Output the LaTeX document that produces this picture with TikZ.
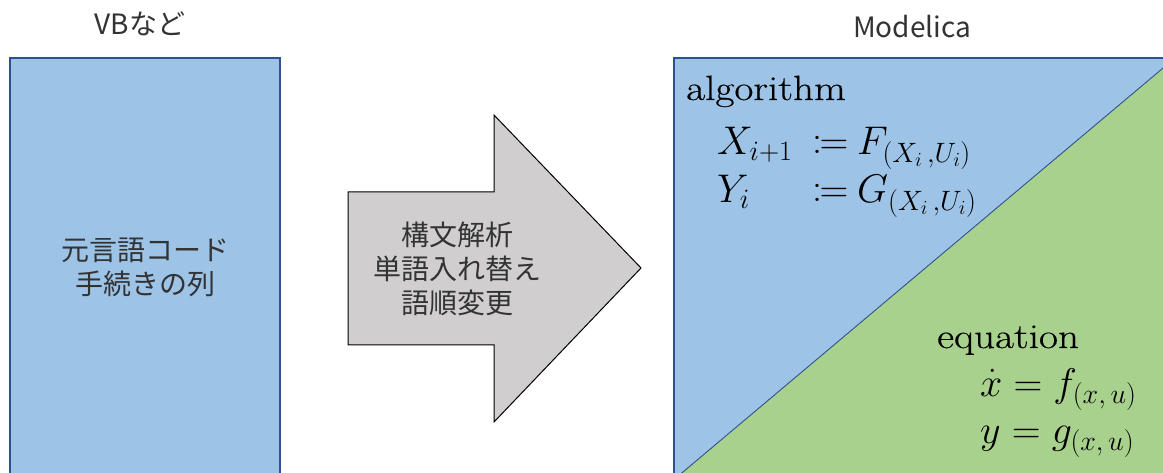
\RequirePackage{fix-cm}
\documentclass[tikz,border=0pt]{standalone}
\usepackage{mathtools}
\usepackage{fontspec}
\newfontfamily\jp{Noto Sans CJK JP}
\newfontfamily\kwfont{Latin Modern Roman}[FakeStretch=1.18, FakeBold=0.4]
\definecolor{boxblue}{HTML}{9DC3E6}
\definecolor{boxgreen}{HTML}{A9D18E}
\definecolor{arrowgray}{HTML}{D0CECE}
\definecolor{edgeblue}{HTML}{2F528F}
\definecolor{txt}{HTML}{333333}
\begin{document}
\begin{tikzpicture}[x=1pt,y=-1pt,
  jptext/.style={font=\jp\fontsize{28}{34}\selectfont, text=txt, align=center, inner sep=0pt},
  kw/.style={font=\kwfont\fontsize{35}{40}\selectfont, text=black, inner sep=0pt, anchor=base west},
  eq/.style={font=\fontsize{40}{42}\selectfont, text=black, inner sep=0pt, anchor=base west},
  edge/.style={draw=edgeblue, line width=1.1pt}]
\useasboundingbox (0,0) rectangle (1163,473);
\begin{scope}
  \clip (0,0) rectangle (1163,473);
  % left box
  \filldraw[edge, fill=boxblue] (10,58) rectangle (280,500);
  % right box
  \fill[boxblue] (674,58) rectangle (1200,500);
  \fill[boxgreen] (1163,68) -- (658,493) -- (1200,493) -- (1200,40) -- (1163,40) -- cycle;
  \fill[boxblue] (1163,58) -- (1163,68) -- (1200,37) -- (1200,58) -- cycle;
  \draw[draw=edgeblue, line width=0.9pt] (1175,58) -- (658,493);
  \draw[edge] (674,500) -- (674,58) -- (1200,58);
\end{scope}
% arrow
\filldraw[fill=arrowgray, draw=black, line width=1pt]
  (348,192) -- (494,192) -- (494,115) -- (641,268) -- (494,422) -- (494,345) -- (348,345) -- cycle;
% labels
\node[jptext] (vb) at (140,24) {VBなど};
\node[jptext] (mod) at (912,27) {Modelica};
\node[jptext] (src) at (145,267) {元言語コード\\手続きの列};
\node[jptext] (conv) at (457,269) {構文解析\\単語入れ替え\\語順変更};
% algorithm
\node[kw] (alg) at (686,100) {algorithm};
\node[eq] (xl) at (717,155) {$X_{i+1}$};
\node[eq] (xa) at (812,155) {$\coloneqq$};
\node[eq] (xr) at (857,155) {$F_{(X_i\,,U_i)}$};
\node[eq] (yl) at (717,203) {$Y_i$};
\node[eq] (ya) at (812,203) {$\coloneqq$};
\node[eq] (yr) at (857,203) {$G_{(X_i\,,U_i)}$};
% equation
\node[kw] (equ) at (937,348) {equation};
\node[eq] (e1) at (980,396) {$\dot{x}=f_{(x,\,u)}$};
\node[eq] (e2) at (980,443) {$y=g_{(x,\,u)}$};
\end{tikzpicture}
\end{document}
